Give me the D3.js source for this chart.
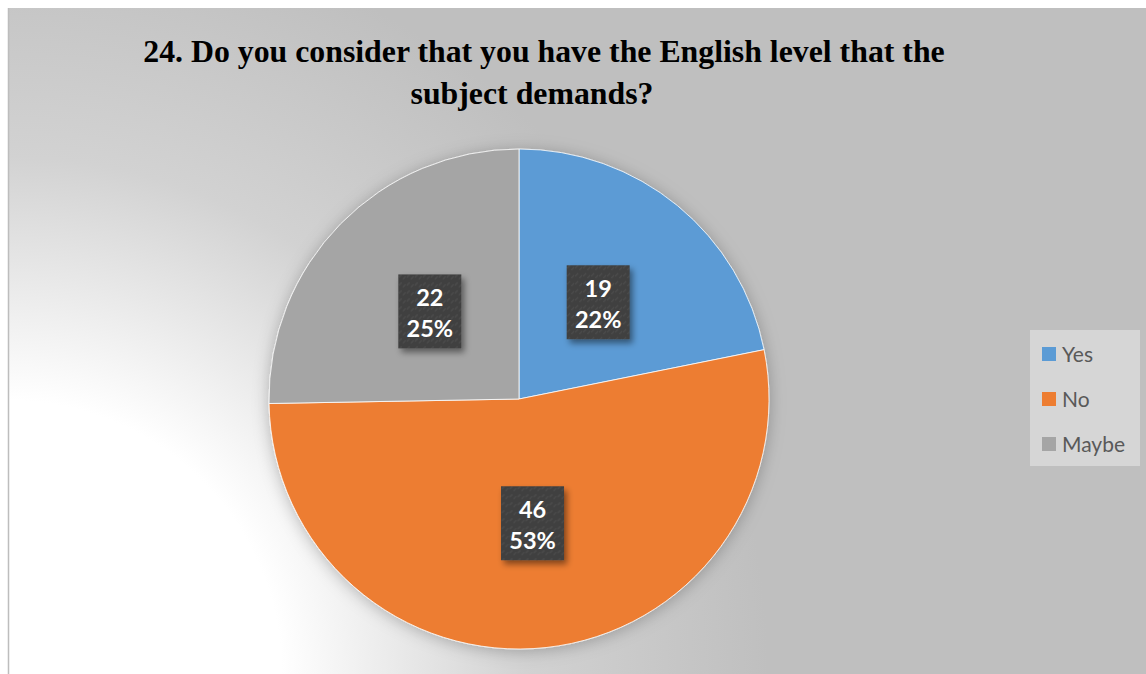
<!DOCTYPE html>
<html>
<head>
<meta charset="utf-8">
<script src="https://cdn.jsdelivr.net/npm/d3@7"></script>
<style>
  html, body { margin: 0; padding: 0; background: #fff; }
  svg { display: block; }
</style>
</head>
<body>
<div id="chart"></div>
<script>
// data
const categories = ["Yes", "No", "Maybe"];
const counts = [19, 46, 22];
const percentLabels = ["22%", "53%", "25%"];
const colors = ["#5b9bd5", "#ed7d31", "#a5a5a5"];
const titleLines = ["24. Do you consider that you have the English level that the", "subject demands?"];

const W = 1146, H = 674;
const svg = d3.select("#chart").append("svg").attr("width", W).attr("height", H);
const defs = svg.append("defs");

// background gradient: white bottom-left fading to grey
const bg = defs.append("radialGradient").attr("id", "bg")
  .attr("gradientUnits", "userSpaceOnUse")
  .attr("cx", 8).attr("cy", 674).attr("r", 760);
bg.append("stop").attr("offset", "0").attr("stop-color", "#ffffff");
bg.append("stop").attr("offset", "0.36").attr("stop-color", "#ffffff");
bg.append("stop").attr("offset", "0.68").attr("stop-color", "#d2d2d2");
bg.append("stop").attr("offset", "1").attr("stop-color", "#bfbfbf");

const shadow = defs.append("filter").attr("id", "shadow")
  .attr("x", "-20%").attr("y", "-20%").attr("width", "150%").attr("height", "150%");
shadow.append("feDropShadow").attr("dx", 3).attr("dy", 4).attr("stdDeviation", 3)
  .attr("flood-color", "#000").attr("flood-opacity", 0.45);

const pieShadow = defs.append("filter").attr("id", "pieShadow")
  .attr("x", "-20%").attr("y", "-20%").attr("width", "140%").attr("height", "140%");
pieShadow.append("feDropShadow").attr("dx", 0).attr("dy", 2).attr("stdDeviation", 8)
  .attr("flood-color", "#000").attr("flood-opacity", 0.25);

// faint texture for label boxes
const pat = defs.append("pattern").attr("id", "tex")
  .attr("patternUnits", "userSpaceOnUse").attr("width", 8).attr("height", 8);
pat.append("rect").attr("width", 8).attr("height", 8).attr("fill", "#404040");
pat.append("path").attr("d", "M1,6 L4,3 M5,8 L8,5").attr("stroke", "#4b4b4b").attr("stroke-width", 1.2);

svg.append("rect").attr("x", 8).attr("y", 8).attr("width", W - 8).attr("height", H - 8)
  .attr("fill", "url(#bg)");
svg.append("line").attr("x1", 8.5).attr("x2", 8.5).attr("y1", 8).attr("y2", H)
  .attr("stroke", "#bdbdbd").attr("stroke-width", 1.5);

// title
const title = svg.append("text")
  .attr("font-family", "'Liberation Serif', 'Times New Roman', serif")
  .attr("font-weight", "bold").attr("font-size", 31.8).attr("fill", "#000")
  .attr("text-anchor", "middle");
title.append("tspan").attr("x", 544).attr("y", 62).text(titleLines[0]);
title.append("tspan").attr("x", 532).attr("y", 104).text(titleLines[1]);

// pie
const cx = 519, cy = 399, R = 250;
const pie = d3.pie().sort(null).value(d => d)(counts);
const arc = d3.arc().innerRadius(0).outerRadius(R);
const labelArc = d3.arc().innerRadius(125).outerRadius(125);

const g = svg.append("g").attr("transform", `translate(${cx},${cy})`);
g.append("g").attr("filter", "url(#pieShadow)")
  .selectAll("path").data(pie).join("path")
  .attr("d", arc)
  .attr("fill", (d, i) => colors[i])
  .attr("stroke", "#fff").attr("stroke-width", 0.8);

const labels = g.selectAll("g.lab").data(pie).join("g").attr("class", "lab")
  .attr("transform", d => `translate(${labelArc.centroid(d)})`);
labels.append("rect")
  .attr("x", -31.5).attr("y", -37).attr("width", 63).attr("height", 74)
  .attr("fill", "url(#tex)").attr("filter", "url(#shadow)");
const lt = labels.append("text")
  .attr("text-anchor", "middle").attr("fill", "#fff")
  .attr("font-family", "Lato, 'Open Sans', sans-serif")
  .attr("font-weight", "bold").attr("font-size", 23.5);
lt.append("tspan").attr("x", 0).attr("y", -5).text(d => d.data);
lt.append("tspan").attr("x", 0).attr("y", 26).text((d, i) => percentLabels[i]);

// legend
const legend = svg.append("g").attr("transform", "translate(1030,330)");
legend.append("rect").attr("width", 110).attr("height", 136).attr("fill", "#d9d9d9").attr("opacity", 0.85);
const items = legend.selectAll("g").data(categories).join("g")
  .attr("transform", (d, i) => `translate(12,${24 + i * 45})`);
items.append("rect").attr("x", 0).attr("y", -7).attr("width", 14).attr("height", 14)
  .attr("fill", (d, i) => colors[i]);
items.append("text").attr("x", 20).attr("y", 7.5)
  .attr("font-family", "Lato, 'Open Sans', sans-serif").attr("font-size", 21)
  .attr("fill", "#595959").text(d => d);
</script>
</body>
</html>
